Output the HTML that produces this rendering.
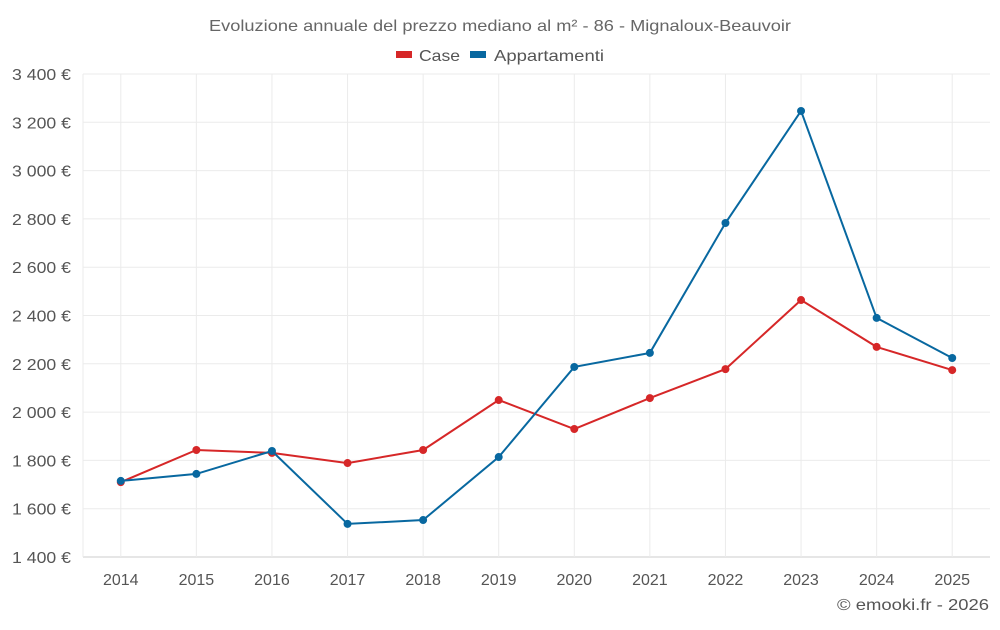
<!DOCTYPE html>
<html><head><meta charset="utf-8"><style>
body{margin:0;background:#fff;font-family:"Liberation Sans",sans-serif;}
svg text{font-family:"Liberation Sans",sans-serif;fill:#555;}
</style></head><body>
<svg id="chart" width="1000" height="625" xmlns="http://www.w3.org/2000/svg">
<text x="209" y="31" textLength="582" lengthAdjust="spacingAndGlyphs" font-size="16" style="fill:#666">Evoluzione annuale del prezzo mediano al m² - 86 - Mignaloux-Beauvoir</text>
<g>
<rect x="396" y="51" width="16" height="7" fill="#d62728"/>
<text x="419" y="61" textLength="41" lengthAdjust="spacingAndGlyphs" font-size="16">Case</text>
<rect x="470" y="51" width="16" height="7" fill="#0868a0"/>
<text x="494" y="61" textLength="110" lengthAdjust="spacingAndGlyphs" font-size="16">Appartamenti</text>
</g>
<g id="grid"></g><g id="axes"></g><g id="series"></g>
<text x="837" y="610" textLength="152" lengthAdjust="spacingAndGlyphs" font-size="16">© emooki.fr - 2026</text>
</svg>
<script>
const years=[2014,2015,2016,2017,2018,2019,2020,2021,2022,2023,2024,2025];
const caseValues=[1710,1843,1831,1789,1843,2050,1930,2058,2178,2464,2270,2174];
const apptValues=[1715,1744,1839,1537,1553,1814,2187,2245,2783,3247,2390,2224];
const yTicks=[1400,1600,1800,2000,2200,2400,2600,2800,3000,3200,3400];
const NS="http://www.w3.org/2000/svg";
const L=83,R=990,T=74,B=557,yMin=1400,yMax=3400;
const step=(R-L)/years.length;
const xS=i=>L+step*(i+0.5);
const yS=v=>B-(v-yMin)/(yMax-yMin)*(B-T);
function mk(tag,attrs,parent){const e=document.createElementNS(NS,tag);for(const k in attrs)e.setAttribute(k,attrs[k]);parent.appendChild(e);return e;}
const grid=document.getElementById('grid'),axes=document.getElementById('axes'),ser=document.getElementById('series');
const fmt=v=>String(v).replace(/\B(?=(\d{3})+(?!\d))/g,' ')+' €';
yTicks.forEach(v=>{
 const l=mk('line',{x1:L,x2:R,y1:yS(v),y2:yS(v),stroke:v===yMin?'#ccc':'#ebebeb'},grid);
 
 
 const t=mk('text',{x:12,y:yS(v)+6,textLength:59,lengthAdjust:'spacingAndGlyphs','font-size':16},axes);
 t.textContent=fmt(v);
 
 
});
years.forEach((y,i)=>{
 const l=mk('line',{x1:xS(i),x2:xS(i),y1:T,y2:B,stroke:'#ebebeb'},grid);
 
 
 const t=mk('text',{x:xS(i),y:585,'text-anchor':'middle','font-size':16},axes);
 t.textContent=y;
 
 
});
const vl=mk('line',{x1:L,x2:L,y1:T,y2:B,stroke:'#ebebeb'},grid);


function drawSeries(vals,color,name){
 const p=mk('polyline',{points:vals.map((v,i)=>xS(i)+','+yS(v)).join(' '),fill:'none',stroke:color,'stroke-width':2},ser);
 
 
 vals.forEach((v,i)=>{
  const c=mk('circle',{cx:xS(i),cy:yS(v),r:4,fill:color},ser);
  
  
 });
}
drawSeries(caseValues,'#d62728','case');
drawSeries(apptValues,'#0868a0','appartamenti');
</script>
</body></html>
